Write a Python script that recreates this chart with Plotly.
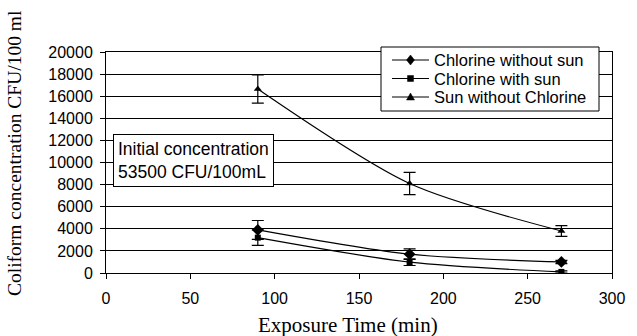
import plotly.graph_objects as go

time_min = [90, 180, 270]
chlorine_without_sun = [3900, 1700, 1000]
chlorine_without_sun_err = [850, 480, 150]
chlorine_with_sun = [3200, 980, 100]
chlorine_with_sun_err = [700, 300, 100]
sun_without_chlorine = [16650, 8100, 3800]
sun_without_chlorine_err = [1280, 1000, 480]

x_ticks = [0, 50, 100, 150, 200, 250, 300]
y_ticks = [0, 2000, 4000, 6000, 8000, 10000, 12000, 14000, 16000, 18000, 20000]

series_names = ["Chlorine without sun", "Chlorine with sun", "Sun without Chlorine"]

series = [
    (series_names[0], chlorine_without_sun, chlorine_without_sun_err, "diamond", 9),
    (series_names[1], chlorine_with_sun, chlorine_with_sun_err, "square", 6),
    (series_names[2], sun_without_chlorine, sun_without_chlorine_err, "triangle-up", 7),
]

W, H = 637, 336
ML, MR, MT, MB = 106, 25, 52, 63
PW, PH = W - ML - MR, H - MT - MB


def px(X):
    return (X - ML) / PW


def py(Y):
    return (H - MB - Y) / PH


fig = go.Figure()
for name, y, err, sym, sz in series:
    fig.add_trace(go.Scatter(
        x=time_min, y=y, name=name, mode="lines+markers", showlegend=False,
        line=dict(color="black", width=1.2, shape="spline", smoothing=0.8),
        marker=dict(symbol=sym, size=sz, color="black"),
        error_y=dict(type="data", array=err, visible=True, color="black", thickness=1.2, width=6),
    ))

serif = "Liberation Serif, Times New Roman, serif"
sans = "Liberation Sans, Arial, sans-serif"

shapes = []
annotations = []

# legend box drawn by hand to match the compact Excel legend
shapes.append(dict(type="rect", xref="paper", yref="paper",
                   x0=px(381), x1=px(599), y0=py(111), y1=py(47),
                   line=dict(color="black", width=1), fillcolor="white", layer="above"))
row_y = [60, 78.5, 97]
marker_paths = [
    "M 0,-5 L 4,0 L 0,5 L -4,0 Z",
    "M -3,-3 L 3,-3 L 3,3 L -3,3 Z",
    "M 0,4 L 4,-3 L -4,-3 Z",
]
for name, ry, path in zip(series_names, row_y, marker_paths):
    shapes.append(dict(type="line", xref="paper", yref="paper",
                       x0=px(392), x1=px(429), y0=py(ry), y1=py(ry),
                       line=dict(color="black", width=1.2), layer="above"))
    shapes.append(dict(type="path", xref="paper", yref="paper",
                       xsizemode="pixel", ysizemode="pixel",
                       xanchor=px(410.5), yanchor=py(ry), path=path,
                       fillcolor="black", line=dict(color="black", width=0.5), layer="above"))
    annotations.append(dict(text=name, xref="paper", yref="paper",
                            x=px(432), y=py(ry), xanchor="left", yanchor="middle",
                            showarrow=False, font=dict(family=sans, size=16.5)))

annotations += [
    dict(
        text="Initial concentration<br>53500 CFU/100mL",
        xref="x", yref="y", x=4.3, y=12600, xanchor="left", yanchor="top",
        showarrow=False, align="left", bgcolor="white", bordercolor="black", borderwidth=1, borderpad=4,
        font=dict(family=sans, size=17.5),
    ),
    dict(
        text="Exposure Time (min)", xref="paper", yref="paper",
        x=px(348), y=py(325), xanchor="center", yanchor="middle",
        showarrow=False, font=dict(family=serif, size=21),
    ),
    dict(
        text="Coliform concentration CFU/100 ml", xref="paper", yref="paper",
        x=px(14), y=py(153), xanchor="center", yanchor="middle",
        textangle=-90, showarrow=False, font=dict(family=serif, size=19.5),
    ),
]

fig.update_layout(
    width=W, height=H,
    margin=dict(l=ML, r=MR, t=MT, b=MB),
    paper_bgcolor="white", plot_bgcolor="white",
    font=dict(family=sans, size=16, color="black"),
    showlegend=False,
    xaxis=dict(
        range=[0, 300], tickvals=x_ticks, ticktext=[str(v) for v in x_ticks],
        showgrid=False, zeroline=False, showline=True, linecolor="black", linewidth=1,
        mirror=True, ticks="outside", ticklen=5, tickcolor="black", ticklabelstandoff=6,
        tickfont=dict(family=sans, size=16),
    ),
    yaxis=dict(
        range=[0, 20000], tickvals=y_ticks, ticktext=[str(v) for v in y_ticks],
        showgrid=True, gridcolor="black", gridwidth=1, zeroline=False,
        showline=True, linecolor="black", linewidth=1, mirror=True,
        ticks="outside", ticklen=5, tickcolor="black", ticklabelstandoff=4,
        tickfont=dict(family=sans, size=16),
    ),
    shapes=shapes,
    annotations=annotations,
)

fig.write_html("out.html")
